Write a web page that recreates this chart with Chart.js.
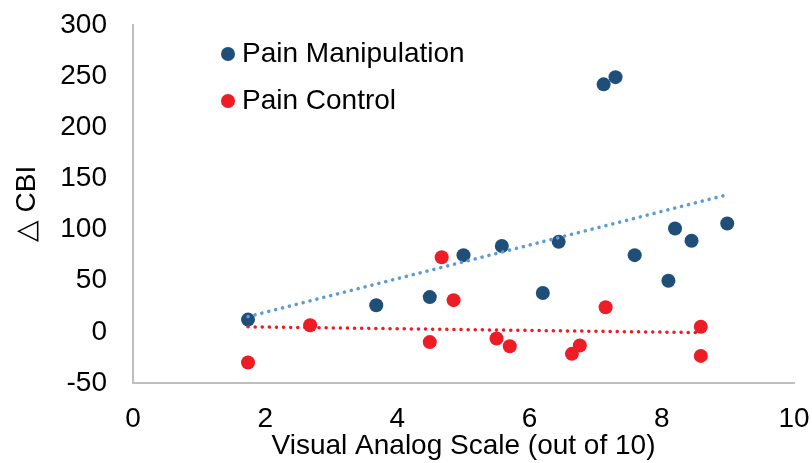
<!DOCTYPE html>
<html>
<head>
<meta charset="utf-8">
<script src="https://cdn.jsdelivr.net/npm/chart.js@4"></script>
<style>
  html, body { margin: 0; padding: 0; background: #ffffff; }
  #wrap { width: 812px; height: 463px; }
</style>
</head>
<body>
<div id="wrap"><canvas id="myChart" width="812" height="463"></canvas></div>
<script>
// values
const manipX = [1.74, 3.68, 4.49, 5.0, 5.58, 6.2, 6.44, 7.12, 7.3, 7.59, 8.1, 8.2, 8.45, 8.99];
const manipY = [12, 26, 34, 75, 84, 38, 88, 242, 249, 75, 50, 101, 89, 106];
const controlX = [1.74, 2.68, 4.49, 4.67, 4.85, 5.5, 5.7, 6.64, 6.76, 7.15, 8.59, 8.59];
const controlY = [-30, 6.5, -10, 73, 31, -6.5, -14, -21.5, -13.4, 24, 5, -23.5];
const xTicks = [0, 2, 4, 6, 8, 10];
const yTicks = [-50, 0, 50, 100, 150, 200, 250, 300];

const seriesNames = ['Pain Manipulation', 'Pain Control'];
const darkBlue = '#1F4E79';
const red = '#EE1C25';
const lightBlue = '#5B9BD5';
const font = 'Liberation Sans, Arial, sans-serif';

function toPoints(xs, ys) {
  return xs.map((x, i) => ({ x: x, y: ys[i] }));
}

// least squares trendline, like the spreadsheet one
function trend(xs, ys) {
  const n = xs.length;
  const mx = xs.reduce((a, b) => a + b, 0) / n;
  const my = ys.reduce((a, b) => a + b, 0) / n;
  let sxy = 0, sxx = 0;
  xs.forEach((x, i) => { sxy += (x - mx) * (ys[i] - my); sxx += (x - mx) * (x - mx); });
  const k = sxy / sxx;
  const x0 = Math.min(...xs), x1 = Math.max(...xs);
  return [{ x: x0, y: my + k * (x0 - mx) }, { x: x1, y: my + k * (x1 - mx) }];
}

// legend drawn inside the plot area, top left
const innerLegend = {
  id: 'innerLegend',
  afterDraw(chart) {
    const ctx = chart.ctx;
    const area = chart.chartArea;
    const rows = [{ name: seriesNames[0], color: darkBlue, dy: 29 }, { name: seriesNames[1], color: red, dy: 76 }];
    ctx.save();
    ctx.font = '28px ' + font;
    ctx.textBaseline = 'middle';
    ctx.textAlign = 'left';
    rows.forEach(r => {
      const y = area.top + r.dy;
      ctx.fillStyle = r.color;
      ctx.beginPath();
      ctx.arc(area.left + 95, y, 7, 0, Math.PI * 2);
      ctx.fill();
      ctx.fillStyle = '#000000';
      ctx.fillText(r.name, area.left + 109, y);
    });
    ctx.restore();
  }
};

const ctx = document.getElementById('myChart').getContext('2d');
const myChart = new Chart(ctx, {
  type: 'scatter',
  data: {
    datasets: [
      {
        type: 'line',
        label: 'trend manip',
        data: trend(manipX, manipY),
        borderColor: lightBlue,
        borderWidth: 3.5,
        borderDash: [0.1, 7],
        borderCapStyle: 'round',
        pointRadius: 0,
        fill: false,
        order: 0
      },
      {
        type: 'line',
        label: 'trend control',
        data: trend(controlX, controlY),
        borderColor: red,
        borderWidth: 3.5,
        borderDash: [0.1, 7],
        borderCapStyle: 'round',
        pointRadius: 0,
        fill: false,
        order: 0
      },
      {
        label: seriesNames[0],
        data: toPoints(manipX, manipY),
        backgroundColor: darkBlue,
        borderWidth: 0,
        pointRadius: 7,
        order: 1
      },
      {
        label: seriesNames[1],
        data: toPoints(controlX, controlY),
        backgroundColor: red,
        borderWidth: 0,
        pointRadius: 7,
        order: 1
      }
    ]
  },
  options: {
    responsive: false,
    animation: false,
    layout: { padding: { left: 0, top: 25, right: 18, bottom: 0 } },
    scales: {
      x: {
        type: 'linear',
        min: 0,
        max: 10,
        afterBuildTicks: axis => { axis.ticks = xTicks.map(v => ({ value: v })); },
        afterFit: axis => {
          axis.height = 80;
          axis.paddingLeft = 0;
          axis.paddingRight = 0;
        },
        grid: { display: false, drawTicks: false },
        border: { display: true, color: '#BFBFBF', width: 2 },
        ticks: {
          padding: 19,
          color: '#000000',
          font: { family: font, size: 28 }
        },
        title: {
          display: true,
          text: 'Visual Analog Scale (out of 10)',
          color: '#000000',
          font: { family: font, size: 28 },
          padding: 0
        }
      },
      y: {
        type: 'linear',
        min: -50,
        max: 300,
        afterBuildTicks: axis => { axis.ticks = yTicks.map(v => ({ value: v })); },
        afterFit: axis => {
          axis.width = 133;
          axis.paddingTop = 0;
          axis.paddingBottom = 0;
        },
        grid: { display: false, drawTicks: false },
        border: { display: true, color: '#BFBFBF', width: 2 },
        ticks: {
          padding: 26,
          color: '#000000',
          font: { family: font, size: 28 }
        },
        title: {
          display: true,
          text: '△ CBI',
          color: '#000000',
          font: { family: font, size: 28 },
          padding: { top: 10, bottom: 0 }
        }
      }
    },
    plugins: {
      legend: { display: false },
      tooltip: { enabled: false }
    }
  },
  plugins: [innerLegend]
});
</script>
</body>
</html>
